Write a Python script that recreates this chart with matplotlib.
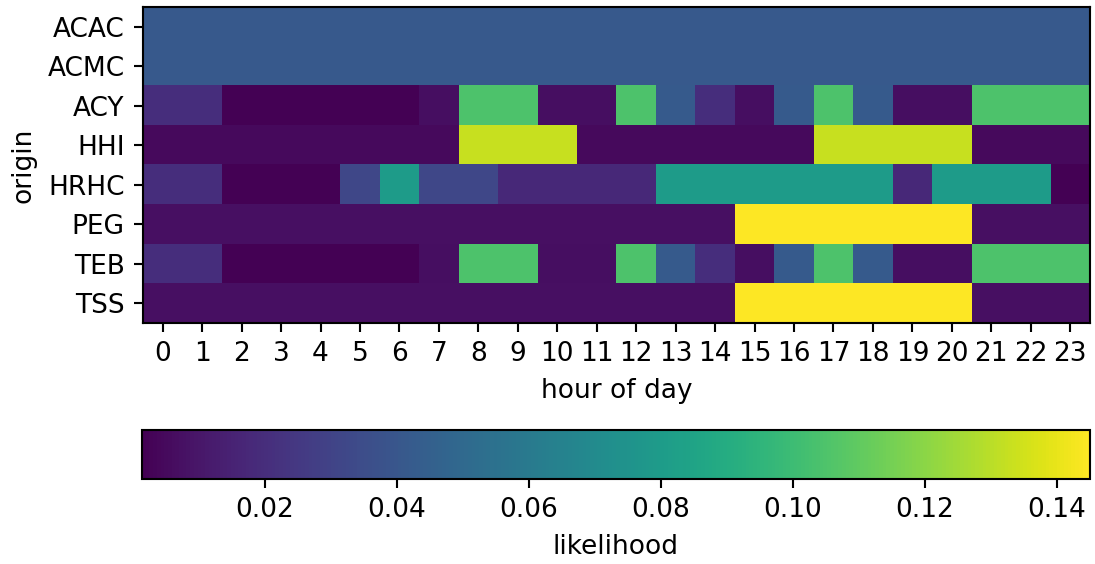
import numpy as np
import matplotlib
matplotlib.use('Agg')
import matplotlib.pyplot as plt

ORIGINS = ['ACAC', 'ACMC', 'ACY', 'HHI', 'HRHC', 'PEG', 'TEB', 'TSS']
HOURS = list(range(24))

# likelihood per hour of day
ACAC = [0.0417] * 24
ACMC = [0.0417] * 24
ACY = [0.020, 0.020, 0.0014, 0.0014, 0.0014, 0.0014, 0.0014, 0.007,
       0.105, 0.105, 0.007, 0.007, 0.105, 0.042, 0.020, 0.007,
       0.042, 0.105, 0.042, 0.007, 0.007, 0.105, 0.105, 0.105]
HHI = [0.0049] * 8 + [0.133, 0.133, 0.133] + [0.0049] * 6 + [0.133] * 4 + [0.0049] * 3
HRHC = [0.020, 0.020, 0.0014, 0.0014, 0.0014, 0.032, 0.080, 0.032,
        0.032, 0.018, 0.018, 0.018, 0.018, 0.080, 0.080, 0.080,
        0.080, 0.080, 0.080, 0.018, 0.080, 0.080, 0.080, 0.0014]
PEG = [0.0072] * 15 + [0.145] * 6 + [0.0072] * 3
TEB = list(ACY)
TSS = list(PEG)

data = np.array([ACAC, ACMC, ACY, HHI, HRHC, PEG, TEB, TSS])

DPI = 190
fig = plt.figure(figsize=(1095 / DPI, 564 / DPI), dpi=DPI)
ax = fig.add_axes([0.1306, 0.4273, 0.8648, 0.5603])
cax = fig.add_axes([0.1297, 0.1507, 0.8657, 0.0869])

im = ax.imshow(data, cmap='viridis', aspect='auto')
ax.set_xticks(range(len(HOURS)))
ax.set_xticklabels(HOURS)
ax.set_yticks(range(len(ORIGINS)))
ax.set_yticklabels(ORIGINS)
ax.set_xlabel('hour of day')
ax.set_ylabel('origin')

fig.colorbar(im, cax=cax, orientation='horizontal', label='likelihood')

fig.savefig('out.png', dpi=DPI)
